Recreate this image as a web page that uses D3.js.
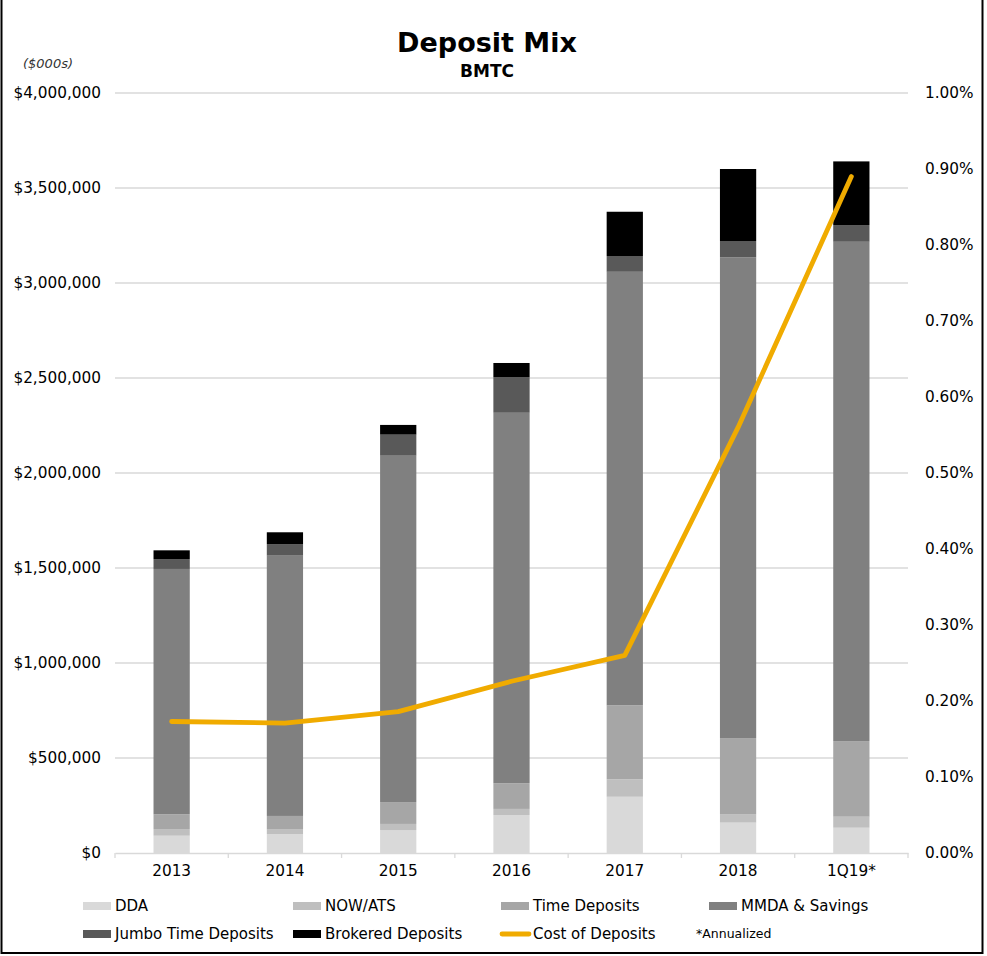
<!DOCTYPE html>
<html>
<head>
<meta charset="utf-8">
<script src="https://cdnjs.cloudflare.com/ajax/libs/d3/7.8.5/d3.min.js"></script>
<style>
    body { margin: 0; background: #fff; }
    svg text { font-family: "DejaVu Sans", Verdana, sans-serif; fill: #000; }
</style>
</head>
<body>
<div id="chart"></div>
<script>
// categories and series ($000s)
const years = ["2013", "2014", "2015", "2016", "2017", "2018", "1Q19*"];
const dda       = [91000, 100000, 121000, 200000, 296000, 160000, 133000];
const nowAts    = [35000, 26000, 32000, 32000, 92000, 45000, 58000];
const timeDep   = [78000, 69000, 115000, 135000, 389000, 400000, 398000];
const mmda      = [1291000, 1370000, 1823000, 1950000, 2282000, 2530000, 2628000];
const jumbo     = [52000, 61000, 111000, 188000, 83000, 86000, 88000];
const brokered  = [46000, 62000, 51000, 74000, 233000, 379000, 335000];
const costOfDeposits = [0.173, 0.171, 0.186, 0.226, 0.260, 0.560, 0.890]; // percent

const seriesNames = ["DDA", "NOW/ATS", "Time Deposits", "MMDA & Savings", "Jumbo Time Deposits", "Brokered Deposits"];
const seriesColors = ["#d9d9d9", "#bfbfbf", "#a6a6a6", "#808080", "#595959", "#000000"];
const leftTicks = [0, 500000, 1000000, 1500000, 2000000, 2500000, 3000000, 3500000, 4000000];
const rightTicks = [0, 0.1, 0.2, 0.3, 0.4, 0.5, 0.6, 0.7, 0.8, 0.9, 1.0];

const W = 987, H = 956;
const margin = {top: 93, right: 79, bottom: 103, left: 115};
const width = W - margin.left - margin.right;
const height = H - margin.top - margin.bottom;
const tickFont = "15.3px";

const svg = d3.select("#chart").append("svg")
    .attr("width", W)
    .attr("height", H);

// outer frame
svg.append("rect")
    .attr("x", 1.5).attr("y", -2)
    .attr("width", 981).attr("height", 955)
    .attr("fill", "none")
    .attr("stroke", "#000")
    .attr("stroke-width", 2);

// titles
svg.append("text")
    .attr("x", 487).attr("y", 52)
    .attr("text-anchor", "middle")
    .style("font-size", "27px").style("font-weight", "bold")
    .text("Deposit Mix");
svg.append("text")
    .attr("x", 487).attr("y", 77)
    .attr("text-anchor", "middle")
    .style("font-size", "17px").style("font-weight", "bold")
    .text("BMTC");
svg.append("text")
    .attr("x", 23).attr("y", 68)
    .style("font-size", "13px").style("font-style", "italic")
    .style("fill", "#333")
    .text("($000s)");

const g = svg.append("g")
    .attr("transform", `translate(${margin.left},${margin.top})`);

// scales
const x = d3.scaleBand().domain(years).range([0, width]).paddingInner(0.68).paddingOuter(0.34);
const y = d3.scaleLinear().domain([0, 4000000]).range([height, 0]);
const y2 = d3.scaleLinear().domain([0, 1.0]).range([height, 0]);

// gridlines
g.append("g")
    .selectAll("line")
    .data(leftTicks.slice(1))
    .join("line")
    .attr("x1", 0).attr("x2", width)
    .attr("y1", d => y(d)).attr("y2", d => y(d))
    .attr("stroke", "#d9d9d9")
    .attr("stroke-width", 1.3);

// left axis
const yAxis = d3.axisLeft(y)
    .tickValues(leftTicks)
    .tickSize(0)
    .tickPadding(14)
    .tickFormat(d => "$" + d3.format(",")(d));
g.append("g").attr("class", "y-axis").call(yAxis)
    .call(a => a.select(".domain").remove())
    .selectAll("text").style("font-size", tickFont);

// right axis
const y2Axis = d3.axisRight(y2)
    .tickValues(rightTicks)
    .tickSize(0)
    .tickPadding(17)
    .tickFormat(d => d.toFixed(2) + "%");
g.append("g").attr("class", "y2-axis")
    .attr("transform", `translate(${width},0)`)
    .call(y2Axis)
    .call(a => a.select(".domain").remove())
    .selectAll("text").style("font-size", tickFont);

// stacked bars
const rows = years.map((yr, i) => ({
    year: yr, dda: dda[i], now: nowAts[i], time: timeDep[i],
    mmda: mmda[i], jumbo: jumbo[i], brokered: brokered[i]
}));
const keys = ["dda", "now", "time", "mmda", "jumbo", "brokered"];
const stacked = d3.stack().keys(keys)(rows);

g.append("g")
    .selectAll("g")
    .data(stacked)
    .join("g")
    .attr("fill", (d, i) => seriesColors[i])
    .selectAll("rect")
    .data(d => d)
    .join("rect")
    .attr("x", d => x(d.data.year))
    .attr("width", x.bandwidth())
    .attr("y", d => y(d[1]))
    .attr("height", d => y(d[0]) - y(d[1]));

// x axis
const xAxis = d3.axisBottom(x).tickSize(0).tickPadding(12);
const xg = g.append("g").attr("transform", `translate(0,${height})`).call(xAxis);
xg.select(".domain").attr("stroke", "#d9d9d9").attr("stroke-width", 1.3);
xg.selectAll("text").style("font-size", tickFont);
const step = x.step();
xg.selectAll(".sep")
    .data(d3.range(years.length + 1))
    .join("line")
    .attr("x1", d => d * step).attr("x2", d => d * step)
    .attr("y1", 0).attr("y2", 5)
    .attr("stroke", "#d9d9d9")
    .attr("stroke-width", 1.3);

// cost of deposits line
const line = d3.line()
    .x((d, i) => x(years[i]) + x.bandwidth() / 2)
    .y(d => y2(d));
g.append("path")
    .datum(costOfDeposits)
    .attr("fill", "none")
    .attr("stroke", "#f0ab00")
    .attr("stroke-width", 4.8)
    .attr("stroke-linejoin", "round")
    .attr("stroke-linecap", "round")
    .attr("d", line);

// legend
const colX = [115, 325, 533, 741];
const legendItems = seriesNames.map((name, i) => ({name: name, color: seriesColors[i], type: "bar"}));
legendItems.push({name: "Cost of Deposits", color: "#f0ab00", type: "line"});

const legend = svg.append("g").attr("class", "legend");
legendItems.forEach((item, i) => {
    const col = i % 4;
    const row = Math.floor(i / 4);
    const lx = colX[col];
    const ly = 906 + row * 28;
    if (item.type === "bar") {
        legend.append("rect")
            .attr("x", lx - 32).attr("y", ly - 4)
            .attr("width", 28).attr("height", 8)
            .attr("fill", item.color);
    } else {
        legend.append("line")
            .attr("x1", lx - 31).attr("x2", lx - 4)
            .attr("y1", ly).attr("y2", ly)
            .attr("stroke", item.color)
            .attr("stroke-width", 4.8)
            .attr("stroke-linecap", "round");
    }
    legend.append("text")
        .attr("x", lx).attr("y", ly)
        .attr("dy", "0.35em")
        .style("font-size", "15px")
        .text(item.name);
});
legend.append("text")
    .attr("x", 696).attr("y", 934)
    .attr("dy", "0.35em")
    .style("font-size", "12.5px")
    .text("*Annualized");
</script>
</body>
</html>
